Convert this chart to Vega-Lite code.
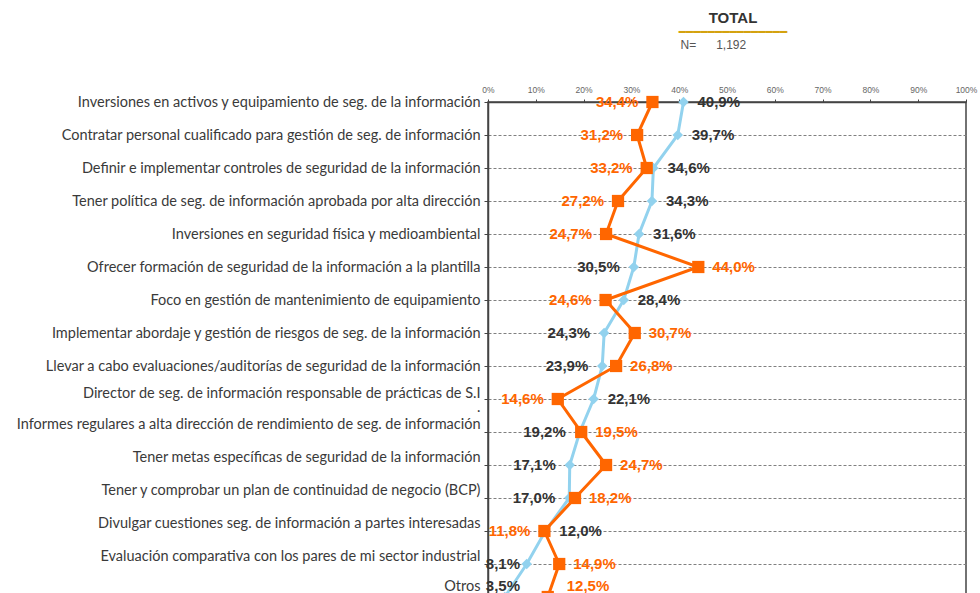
{
  "$schema": "https://vega.github.io/schema/vega-lite/v6.json",
  "width": 478,
  "height": 495,
  "padding": {"left": 0, "top": 11, "right": 14, "bottom": 0},
  "background": "white",
  "config": {
    "locale": {"number": {"decimal": ",", "thousands": ".", "grouping": [3], "currency": ["", " €"]}},
    "view": {"stroke": "#444444", "strokeWidth": 1.5}
  },
  "title": {
    "text": "TOTAL",
    "subtitle": "━━━━━━━━━━━━━━━",
    "anchor": "middle",
    "frame": "group",
    "dx": 6,
    "font": "Liberation Sans",
    "fontSize": 15,
    "fontWeight": "bold",
    "color": "#333333",
    "subtitleFont": "DejaVu Sans Mono",
    "subtitleFontSize": 12,
    "subtitleColor": "#D4A20F",
    "subtitlePadding": 1,
    "offset": 0
  },
  "data": {
    "values": [
      {"idx": 1, "item": "Inversiones en activos y equipamiento de seg. de la información", "s1": 0.409, "s2": 0.344},
      {"idx": 2, "item": "Contratar personal cualificado para gestión de seg. de  información", "s1": 0.397, "s2": 0.312},
      {"idx": 3, "item": "Definir e implementar controles de seguridad de la información", "s1": 0.346, "s2": 0.332},
      {"idx": 4, "item": "Tener política de seg. de información aprobada por alta dirección", "s1": 0.343, "s2": 0.272},
      {"idx": 5, "item": "Inversiones en seguridad física y medioambiental", "s1": 0.316, "s2": 0.247},
      {"idx": 6, "item": "Ofrecer formación de seguridad de la información a la plantilla", "s1": 0.305, "s2": 0.440},
      {"idx": 7, "item": "Foco en gestión de mantenimiento de equipamiento", "s1": 0.284, "s2": 0.246},
      {"idx": 8, "item": "Implementar abordaje y gestión de riesgos de seg. de la información", "s1": 0.243, "s2": 0.307},
      {"idx": 9, "item": "Llevar a cabo evaluaciones/auditorías de seguridad de la información", "s1": 0.239, "s2": 0.268},
      {"idx": 10, "item": "Director de seg. de información responsable de prácticas de S.I", "s1": 0.221, "s2": 0.146},
      {"idx": 11, "item": "Informes regulares a alta dirección de rendimiento de seg. de información", "s1": 0.192, "s2": 0.195},
      {"idx": 12, "item": "Tener metas específicas de  seguridad de la información", "s1": 0.171, "s2": 0.247},
      {"idx": 13, "item": "Tener y comprobar un plan de continuidad de negocio  (BCP)", "s1": 0.170, "s2": 0.182},
      {"idx": 14, "item": "Divulgar cuestiones seg. de información a partes interesadas", "s1": 0.120, "s2": 0.118},
      {"idx": 15, "item": "Evaluación comparativa con los pares de mi sector industrial", "s1": 0.081, "s2": 0.149},
      {"idx": 16, "item": "Otros", "s1": 0.035, "s2": 0.125}
    ]
  },
  "encoding": {
    "y": {
      "field": "item",
      "type": "nominal",
      "sort": null,
      "scale": {"type": "point", "padding": 0},
      "axis": {
        "orient": "left",
        "title": null,
        "grid": true,
        "gridDash": [3, 2],
        "gridColor": "#808080",
        "gridWidth": 1,
        "domain": true,
        "domainColor": "#444444",
        "domainWidth": 1.5,
        "ticks": true,
        "tickSize": 4,
        "tickColor": "#444444",
        "labelFont": "Lato",
        "labelFontSize": 14.5,
        "labelColor": "#3a3a3a",
        "labelPadding": 4,
        "labelLimit": 700,
        "labelLineHeight": 14,
        "labelExpr": "datum.value === 'Director de seg. de información responsable de prácticas de S.I' ? ['Director de seg. de información responsable de prácticas de S.I', '.'] : datum.label",
        "labelOffset": {"condition": [{"test": "indexof(domain('y'), datum.value) == 9", "value": -6}, {"test": "indexof(domain('y'), datum.value) >= 15", "value": -11}, {"test": "indexof(domain('y'), datum.value) >= 10", "value": -8}], "value": 0},
        "minExtent": 488,
        "maxExtent": 488
      }
    }
  },
  "layer": [
    {
      "mark": {"type": "line", "color": "#92D2EE", "strokeWidth": 3},
      "encoding": {
        "x": {
          "field": "s1",
          "type": "quantitative",
          "scale": {"domain": [0, 1], "nice": false},
          "axis": {
            "orient": "top",
            "values": [0, 0.1, 0.2, 0.3, 0.4, 0.5, 0.6, 0.7, 0.8, 0.9, 1],
            "format": "%",
            "grid": false,
            "domainColor": "#444444",
            "domainWidth": 1.5,
            "tickColor": "#444444",
            "tickSize": 3,
            "labelFont": "Liberation Sans",
            "labelFontSize": 8.5,
            "labelColor": "#666666",
            "labelPadding": 5,
            "labelFlush": false,
            "title": "N=\u00a0\u00a0\u00a0\u00a0\u00a0\u00a01,192",
            "titleFont": "Liberation Sans",
            "titleFontSize": 12,
            "titleFontWeight": "normal",
            "titleColor": "#555555",
            "titleAnchor": "start",
            "titleAlign": "left",
            "titleX": 192,
            "titlePadding": 34,
            "minExtent": 17,
            "maxExtent": 17
          }
        },
        "order": {"field": "idx", "type": "quantitative"}
      }
    },
    {
      "mark": {"type": "line", "color": "#FF6600", "strokeWidth": 3},
      "encoding": {
        "x": {"field": "s2", "type": "quantitative"},
        "order": {"field": "idx", "type": "quantitative"}
      }
    },
    {
      "mark": {"type": "point", "shape": "diamond", "filled": true, "size": 110, "color": "#92D2EE", "opacity": 1},
      "encoding": {"x": {"field": "s1", "type": "quantitative"}}
    },
    {
      "mark": {"type": "point", "shape": "square", "filled": true, "size": 150, "color": "#FF6600", "opacity": 1},
      "encoding": {"x": {"field": "s2", "type": "quantitative"}}
    },
    {
      "transform": [{"filter": "datum.s1 < datum.s2"}],
      "mark": {"type": "text", "align": "right", "dx": {"expr": "datum.idx >= 15 ? 32 - scale('x', datum.s1) : -14"}, "dy": {"expr": "datum.idx == 16 ? -11 : 0"}, "font": "Liberation Sans", "fontSize": 15, "fontWeight": "bold", "color": "#333333"},
      "encoding": {"x": {"field": "s1", "type": "quantitative"}, "text": {"field": "s1", "type": "quantitative", "format": ".1%"}}
    },
    {
      "transform": [{"filter": "datum.s1 >= datum.s2"}],
      "mark": {"type": "text", "align": "left", "dx": 14, "font": "Liberation Sans", "fontSize": 15, "fontWeight": "bold", "color": "#333333"},
      "encoding": {"x": {"field": "s1", "type": "quantitative"}, "text": {"field": "s1", "type": "quantitative", "format": ".1%"}}
    },
    {
      "transform": [{"filter": "datum.s2 < datum.s1"}],
      "mark": {"type": "text", "align": "right", "dx": -14, "font": "Liberation Sans", "fontSize": 15, "fontWeight": "bold", "color": "#FF6600"},
      "encoding": {"x": {"field": "s2", "type": "quantitative"}, "text": {"field": "s2", "type": "quantitative", "format": ".1%"}}
    },
    {
      "transform": [{"filter": "datum.s2 >= datum.s1"}],
      "mark": {"type": "text", "align": "left", "dx": {"expr": "datum.idx == 16 ? 19 : 14"}, "dy": {"expr": "datum.idx == 16 ? -11 : 0"}, "font": "Liberation Sans", "fontSize": 15, "fontWeight": "bold", "color": "#FF6600"},
      "encoding": {"x": {"field": "s2", "type": "quantitative"}, "text": {"field": "s2", "type": "quantitative", "format": ".1%"}}
    }
  ]
}
